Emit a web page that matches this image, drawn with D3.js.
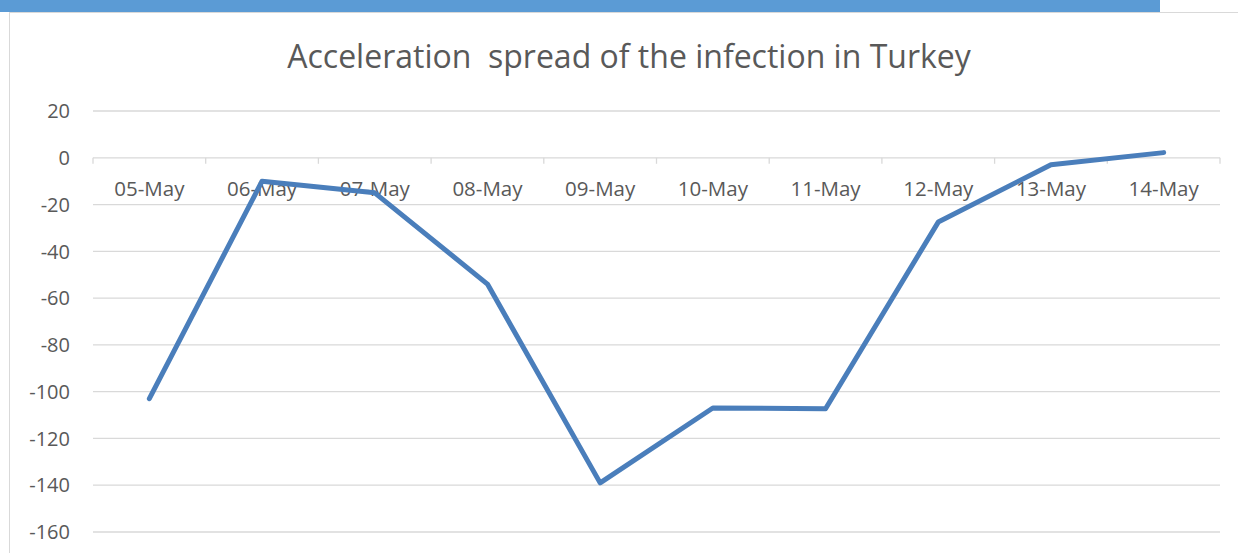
<!DOCTYPE html>
<html lang="en">
<head>
  <meta charset="UTF-8">
  <title>Acceleration spread of the infection in Turkey</title>
  <script src="https://d3js.org/d3.v7.min.js"></script>
  <style>
    body {
      margin: 0;
      padding: 0;
      background-color: #fff;
      overflow: hidden;
    }
    svg {
      display: block;
      font-family: "Open Sans", "Noto Sans", sans-serif;
    }
    .grid-line {
      stroke: #d9d9d9;
      stroke-width: 1.3;
    }
  </style>
</head>
<body>
  <svg id="chart" width="1238" height="553"></svg>

  <script>
    const days = ["05-May", "06-May", "07-May", "08-May", "09-May",
                  "10-May", "11-May", "12-May", "13-May", "14-May"];
    const acceleration = [-103, -10, -15, -54, -139, -107, -107.3, -27.5, -3, 2.2];
    const yTicks = [20, 0, -20, -40, -60, -80, -100, -120, -140, -160];

    const width = 1238;
    const height = 553;
    const margin = { top: 111, right: 18, bottom: 21, left: 93 };

    const svg = d3.select("#chart");

    // 顶部蓝条和边框
    svg.append("rect")
      .attr("x", 0).attr("y", 0)
      .attr("width", 1160).attr("height", 12)
      .attr("fill", "#5b9bd5");
    svg.append("line")
      .attr("x1", 9).attr("x2", width)
      .attr("y1", 12.5).attr("y2", 12.5)
      .attr("stroke", "#d9d9d9");
    svg.append("line")
      .attr("x1", 9.5).attr("x2", 9.5)
      .attr("y1", 12).attr("y2", height)
      .attr("stroke", "#d9d9d9");

    const xScale = d3.scaleBand()
      .domain(days)
      .range([margin.left, width - margin.right])
      .padding(0);

    const yScale = d3.scaleLinear()
      .domain([-160, 20])
      .range([height - margin.bottom, margin.top]);

    // 网格线
    svg.append("g")
      .selectAll("line")
      .data(yTicks)
      .enter().append("line")
      .attr("class", "grid-line")
      .attr("x1", margin.left)
      .attr("x2", width - margin.right)
      .attr("y1", d => yScale(d))
      .attr("y2", d => yScale(d));

    // Y轴标签
    svg.append("g")
      .selectAll("text")
      .data(yTicks)
      .enter().append("text")
      .attr("x", 70)
      .attr("y", d => yScale(d))
      .attr("dy", "0.36em")
      .attr("text-anchor", "end")
      .attr("fill", "#595959")
      .style("font-size", "20px")
      .text(d => d);

    // X轴 (在0处)
    const xAxis = svg.append("g")
      .attr("transform", `translate(0,${yScale(0)})`)
      .call(d3.axisBottom(xScale).tickSize(0).tickPadding(0));
    xAxis.select(".domain").remove();
    xAxis.selectAll("text")
      .attr("y", 38)
      .attr("dy", "0")
      .attr("fill", "#595959")
      .style("font-size", "20.5px")
      .style("font-family", "\"Open Sans\", sans-serif");

    // 类别之间的刻度
    const boundaries = days.map(d => xScale(d)).concat([width - margin.right]);
    svg.append("g")
      .selectAll("line")
      .data(boundaries)
      .enter().append("line")
      .attr("x1", d => d).attr("x2", d => d)
      .attr("y1", yScale(0)).attr("y2", yScale(0) + 6)
      .attr("stroke", "#d9d9d9")
      .attr("stroke-width", 1.3);

    // 折线
    const line = d3.line()
      .x((d, i) => xScale(days[i]) + xScale.bandwidth() / 2)
      .y(d => yScale(d));

    svg.append("path")
      .datum(acceleration)
      .attr("d", line)
      .attr("fill", "none")
      .attr("stroke", "#4a7ebb")
      .attr("stroke-width", 5)
      .attr("stroke-linecap", "round")
      .attr("stroke-linejoin", "round");

    // 标题
    svg.append("text")
      .attr("x", 629)
      .attr("y", 68)
      .attr("text-anchor", "middle")
      .attr("fill", "#595959")
      .style("font-size", "32px")
      .style("white-space", "pre")
      .attr("xml:space", "preserve")
      .text("Acceleration  spread of the infection in Turkey");
  </script>
</body>
</html>
